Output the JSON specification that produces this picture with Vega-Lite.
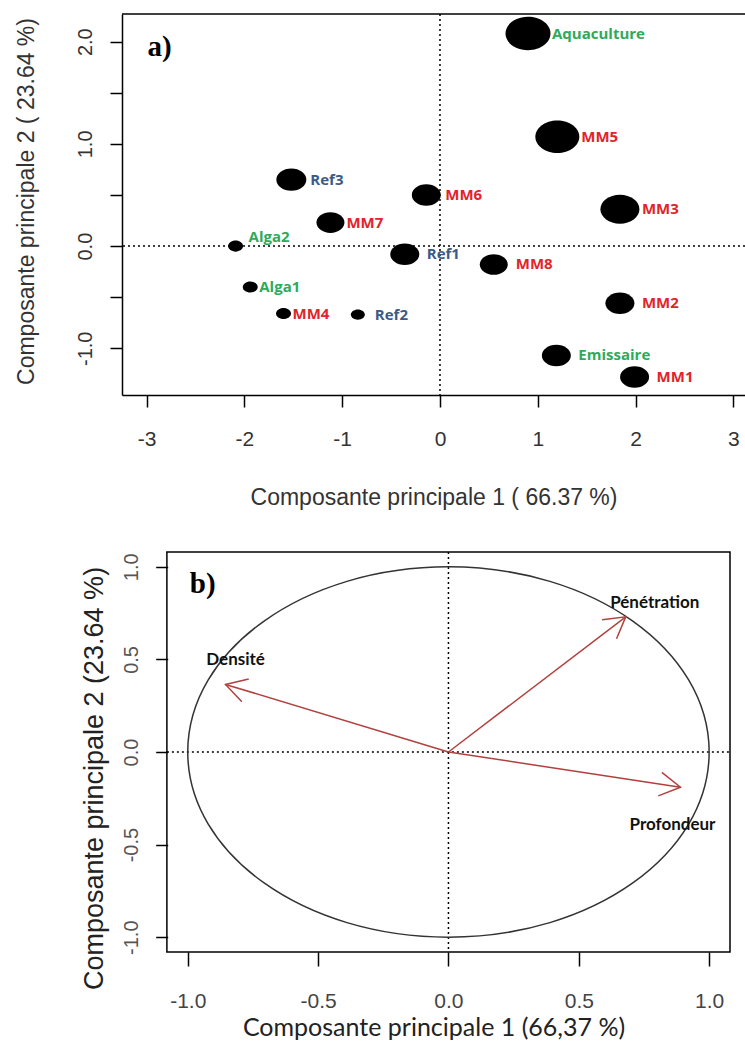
{
  "$schema": "https://vega.github.io/schema/vega-lite/v6.json",
  "padding": {"left": 14, "top": 13, "right": 0, "bottom": 0},
  "spacing": 42,
  "config": {
    "view": {"stroke": null},
    "axis": {"grid": false, "tickColor": "black", "tickWidth": 1.5, "labelFont": "Liberation Sans", "titleFont": "Liberation Sans", "titleFontWeight": "normal", "labelOverlap": false, "labelFlush": false, "domainColor": "black", "domainWidth": 1.5}
  },
  "datasets": {
    "individus": [
      {"nom": "Aquaculture", "type": "Autre", "CP1": 0.90, "CP2": 2.08, "poids": 45},
      {"nom": "MM5", "type": "MM", "CP1": 1.20, "CP2": 1.07, "poids": 44},
      {"nom": "MM3", "type": "MM", "CP1": 1.84, "CP2": 0.36, "poids": 39},
      {"nom": "MM8", "type": "MM", "CP1": 0.55, "CP2": -0.18, "poids": 28},
      {"nom": "MM2", "type": "MM", "CP1": 1.84, "CP2": -0.56, "poids": 29},
      {"nom": "Emissaire", "type": "Autre", "CP1": 1.19, "CP2": -1.07, "poids": 29},
      {"nom": "MM1", "type": "MM", "CP1": 1.99, "CP2": -1.28, "poids": 29},
      {"nom": "Ref3", "type": "Ref", "CP1": -1.52, "CP2": 0.65, "poids": 30},
      {"nom": "MM6", "type": "MM", "CP1": -0.14, "CP2": 0.50, "poids": 29},
      {"nom": "MM7", "type": "MM", "CP1": -1.12, "CP2": 0.23, "poids": 28},
      {"nom": "Alga2", "type": "Autre", "CP1": -2.09, "CP2": 0.0, "poids": 15},
      {"nom": "Ref1", "type": "Ref", "CP1": -0.36, "CP2": -0.08, "poids": 29},
      {"nom": "Alga1", "type": "Autre", "CP1": -1.94, "CP2": -0.40, "poids": 15},
      {"nom": "MM4", "type": "MM", "CP1": -1.60, "CP2": -0.66, "poids": 15},
      {"nom": "Ref2", "type": "Ref", "CP1": -0.84, "CP2": -0.67, "poids": 14}
    ],
    "variables": [
      {"variable": "Pénétration", "CP1": 0.68, "CP2": 0.73},
      {"variable": "Profondeur", "CP1": 0.89, "CP2": -0.19},
      {"variable": "Densité", "CP1": -0.855, "CP2": 0.365}
    ]
  },
  "vconcat": [
    {
      "width": 623,
      "height": 381,
      "layer": [
        {
          "data": {"name": "individus"},
          "mark": {"type": "point", "shape": "M-1,0A1,0.74 0 1,1 1,0A1,0.74 0 1,1 -1,0Z", "filled": true, "color": "black", "opacity": 1, "strokeWidth": 0},
          "encoding": {
            "x": {"field": "CP1", "type": "quantitative",
              "scale": {"domain": [-3.2515, 3.119], "nice": false, "zero": false},
              "axis": {"values": [-3, -2, -1, 0, 1, 2, 3], "labelExpr": "'' + datum.value", "domain": true, "tickSize": 12, "labelFontSize": 21, "labelPadding": 21, "labelColor": "#333",
                "title": "Composante principale 1 ( 66.37 %)", "titleFontSize": 23, "titleY": 109, "titleBaseline": "alphabetic", "titleColor": "#333"}},
            "y": {"field": "CP2", "type": "quantitative",
              "scale": {"domain": [-1.457, 2.271], "nice": false, "zero": false},
              "axis": {"values": [-1, -0.5, 0, 0.5, 1, 1.5, 2], "labelExpr": "datum.value % 1 === 0 ? (datum.value < 0 ? '-' + format(-datum.value, '.1f') : format(datum.value, '.1f')) : ''",
                "domain": true, "tickSize": 12, "labelAngle": -90, "labelAlign": "center", "labelBaseline": "bottom", "labelPadding": 15, "labelFontSize": 20, "labelColor": "#333",
                "title": "Composante principale 2 ( 23.64 %)", "titleFontSize": 23, "titleX": -84, "titleY": 187, "titleAngle": -90, "titleBaseline": "bottom", "titleAlign": "center", "titleColor": "#333"}},
            "size": {"field": "poids", "type": "quantitative", "scale": {"type": "pow", "exponent": 2, "domain": [0, 45], "range": [0, 2025]}, "legend": null}
          }
        },
        {
          "data": {"values": [{}]},
          "mark": {"type": "rule", "color": "black", "strokeWidth": 1.5},
          "encoding": {"y": {"datum": 2.271, "type": "quantitative"}}
        },
        {
          "data": {"values": [{}]},
          "mark": {"type": "rule", "color": "black", "strokeWidth": 1.5, "strokeDash": [2, 3]},
          "encoding": {"y": {"datum": 0, "type": "quantitative"}}
        },
        {
          "data": {"values": [{}]},
          "mark": {"type": "rule", "color": "black", "strokeWidth": 1.5, "strokeDash": [2, 3]},
          "encoding": {"x": {"datum": 0, "type": "quantitative"}}
        },
        {
          "data": {"name": "individus"},
          "transform": [{"filter": {"field": "nom", "oneOf": ["Aquaculture", "MM5"]}}],
          "mark": {"type": "text", "align": "left", "baseline": "middle", "dx": 24, "font": "Open Sans", "fontWeight": "bold", "fontSize": 15},
          "encoding": {"x": {"field": "CP1", "type": "quantitative"}, "y": {"field": "CP2", "type": "quantitative"}, "text": {"field": "nom"},
            "color": {"field": "type", "type": "nominal", "scale": {"domain": ["MM", "Ref", "Autre"], "range": ["#e3232b", "#3b5a86", "#2eaa5a"]}, "legend": null}}
        },
        {
          "data": {"name": "individus"},
          "transform": [{"filter": {"field": "nom", "oneOf": ["MM3", "MM2", "Emissaire", "MM1", "MM8", "Ref1"]}}],
          "mark": {"type": "text", "align": "left", "baseline": "middle", "dx": 22, "font": "Open Sans", "fontWeight": "bold", "fontSize": 15},
          "encoding": {"x": {"field": "CP1", "type": "quantitative"}, "y": {"field": "CP2", "type": "quantitative"}, "text": {"field": "nom"},
            "color": {"field": "type", "type": "nominal", "legend": null}}
        },
        {
          "data": {"name": "individus"},
          "transform": [{"filter": {"field": "nom", "oneOf": ["Ref3", "MM6"]}}],
          "mark": {"type": "text", "align": "left", "baseline": "middle", "dx": 19, "font": "Open Sans", "fontWeight": "bold", "fontSize": 15},
          "encoding": {"x": {"field": "CP1", "type": "quantitative"}, "y": {"field": "CP2", "type": "quantitative"}, "text": {"field": "nom"},
            "color": {"field": "type", "type": "nominal", "legend": null}}
        },
        {
          "data": {"name": "individus"},
          "transform": [{"filter": {"field": "nom", "oneOf": ["MM7"]}}],
          "mark": {"type": "text", "align": "left", "baseline": "middle", "dx": 16, "font": "Open Sans", "fontWeight": "bold", "fontSize": 15},
          "encoding": {"x": {"field": "CP1", "type": "quantitative"}, "y": {"field": "CP2", "type": "quantitative"}, "text": {"field": "nom"},
            "color": {"field": "type", "type": "nominal", "legend": null}}
        },
        {
          "data": {"name": "individus"},
          "transform": [{"filter": {"field": "nom", "oneOf": ["Alga1", "MM4"]}}],
          "mark": {"type": "text", "align": "left", "baseline": "middle", "dx": 9, "font": "Open Sans", "fontWeight": "bold", "fontSize": 15},
          "encoding": {"x": {"field": "CP1", "type": "quantitative"}, "y": {"field": "CP2", "type": "quantitative"}, "text": {"field": "nom"},
            "color": {"field": "type", "type": "nominal", "legend": null}}
        },
        {
          "data": {"name": "individus"},
          "transform": [{"filter": {"field": "nom", "oneOf": ["Ref2"]}}],
          "mark": {"type": "text", "align": "left", "baseline": "middle", "dx": 17, "font": "Open Sans", "fontWeight": "bold", "fontSize": 15},
          "encoding": {"x": {"field": "CP1", "type": "quantitative"}, "y": {"field": "CP2", "type": "quantitative"}, "text": {"field": "nom"},
            "color": {"field": "type", "type": "nominal", "legend": null}}
        },
        {
          "data": {"name": "individus"},
          "transform": [{"filter": {"field": "nom", "oneOf": ["Alga2"]}}],
          "mark": {"type": "text", "align": "left", "baseline": "middle", "dx": 13, "dy": -9, "font": "Open Sans", "fontWeight": "bold", "fontSize": 15},
          "encoding": {"x": {"field": "CP1", "type": "quantitative"}, "y": {"field": "CP2", "type": "quantitative"}, "text": {"field": "nom"},
            "color": {"field": "type", "type": "nominal", "legend": null}}
        },
        {
          "data": {"values": [{}]},
          "mark": {"type": "text", "text": "a)", "align": "left", "baseline": "alphabetic", "font": "Liberation Serif", "fontWeight": "bold", "fontSize": 29, "color": "black"},
          "encoding": {"x": {"datum": -2.99, "type": "quantitative"}, "y": {"datum": 1.863, "type": "quantitative"}}
        }
      ]
    },
    {
      "width": 608,
      "height": 400,
      "layer": [
        {
          "data": {"values": [{}]},
          "mark": {"type": "rect", "filled": false, "color": "black", "strokeWidth": 1.5},
          "encoding": {
            "x": {"datum": -1.08, "type": "quantitative",
              "scale": {"domain": [-1.2522, 1.08], "nice": false, "zero": false},
              "axis": {"values": [-1, -0.5, 0, 0.5, 1], "labelExpr": "datum.value < 0 ? '-' + format(-datum.value, '.1f') : format(datum.value, '.1f')", "domain": false, "tickSize": 14, "labelFontSize": 21, "labelPadding": 24, "labelColor": "#444",
                "title": "Composante principale 1 (66,37 %)", "titleFont": "Lato", "titleFontSize": 25, "titleX": 311.5, "titleY": 83, "titleBaseline": "alphabetic", "titleAlign": "center", "titleColor": "#222"}},
            "x2": {"datum": 1.08},
            "y": {"datum": -1.08, "type": "quantitative",
              "scale": {"domain": [-1.08, 1.08], "nice": false, "zero": false},
              "axis": {"values": [-1, -0.5, 0, 0.5, 1], "labelExpr": "datum.value < 0 ? '-' + format(-datum.value, '.1f') : format(datum.value, '.1f')", "offset": -45.7, "domain": false, "tickSize": 12,
                "labelAngle": -90, "labelAlign": "center", "labelBaseline": "bottom", "labelPadding": 14, "labelFontSize": 20, "labelColor": "#555",
                "title": "Composante principale 2 (23.64 %)", "titleFontSize": 27, "titleX": -59.7, "titleY": 226, "titleAngle": -90, "titleBaseline": "bottom", "titleAlign": "center", "titleColor": "#222"}},
            "y2": {"datum": 1.08}
          }
        },
        {
          "data": {"values": [{}]},
          "mark": {"type": "rule", "color": "black", "strokeWidth": 1.5, "strokeDash": [2, 3]},
          "encoding": {"x": {"datum": -1.08, "type": "quantitative"}, "x2": {"datum": 1.08}, "y": {"datum": 0, "type": "quantitative"}}
        },
        {
          "data": {"values": [{}]},
          "mark": {"type": "rule", "color": "black", "strokeWidth": 1.5, "strokeDash": [2, 3]},
          "encoding": {"x": {"datum": 0, "type": "quantitative"}}
        },
        {
          "data": {"values": [{}]},
          "mark": {"type": "point", "shape": "M-1,0A1,0.7104 0 1,1 1,0A1,0.7104 0 1,1 -1,0Z", "filled": false, "color": "#333", "strokeWidth": 1.5, "opacity": 1, "size": 271858},
          "encoding": {"x": {"datum": 0, "type": "quantitative"}, "y": {"datum": 0, "type": "quantitative"}}
        },
        {
          "data": {"name": "variables"},
          "mark": {"type": "rule", "color": "#b0413e", "strokeWidth": 1.5},
          "encoding": {"x": {"field": "CP1", "type": "quantitative"}, "y": {"field": "CP2", "type": "quantitative"}, "x2": {"datum": 0}, "y2": {"datum": 0}}
        },
        {
          "data": {"name": "variables"},
          "mark": {"type": "point", "shape": "M-1,-0.577L0,0L-1,0.577", "filled": false, "color": "#b0413e", "strokeWidth": 1.5, "opacity": 1, "size": 1700},
          "encoding": {"x": {"field": "CP1", "type": "quantitative"}, "y": {"field": "CP2", "type": "quantitative"},
            "angle": {"field": "CP2", "type": "quantitative", "scale": {"domain": [-0.19, 0.365, 0.73], "range": [8.6, 196.9, 322.7]}, "legend": null}}
        },
        {
          "data": {"name": "variables"},
          "transform": [{"filter": {"field": "variable", "equal": "Pénétration"}}],
          "mark": {"type": "text", "align": "center", "baseline": "middle", "dx": 29, "dy": -14, "font": "Lato", "fontWeight": "bold", "fontSize": 17, "color": "#111"},
          "encoding": {"x": {"field": "CP1", "type": "quantitative"}, "y": {"field": "CP2", "type": "quantitative"}, "text": {"field": "variable"}}
        },
        {
          "data": {"name": "variables"},
          "transform": [{"filter": {"field": "variable", "equal": "Densité"}}],
          "mark": {"type": "text", "align": "center", "baseline": "middle", "dx": 10, "dy": -24, "font": "Lato", "fontWeight": "bold", "fontSize": 17, "color": "#111"},
          "encoding": {"x": {"field": "CP1", "type": "quantitative"}, "y": {"field": "CP2", "type": "quantitative"}, "text": {"field": "variable"}}
        },
        {
          "data": {"name": "variables"},
          "transform": [{"filter": {"field": "variable", "equal": "Profondeur"}}],
          "mark": {"type": "text", "align": "center", "baseline": "middle", "dx": -8, "dy": 38, "font": "Lato", "fontWeight": "bold", "fontSize": 17, "color": "#111"},
          "encoding": {"x": {"field": "CP1", "type": "quantitative"}, "y": {"field": "CP2", "type": "quantitative"}, "text": {"field": "variable"}}
        },
        {
          "data": {"values": [{}]},
          "mark": {"type": "text", "text": "b)", "align": "left", "baseline": "alphabetic", "font": "Liberation Serif", "fontWeight": "bold", "fontSize": 29, "color": "black"},
          "encoding": {"x": {"datum": -0.992, "type": "quantitative"}, "y": {"datum": 0.861, "type": "quantitative"}}
        }
      ]
    }
  ]
}
